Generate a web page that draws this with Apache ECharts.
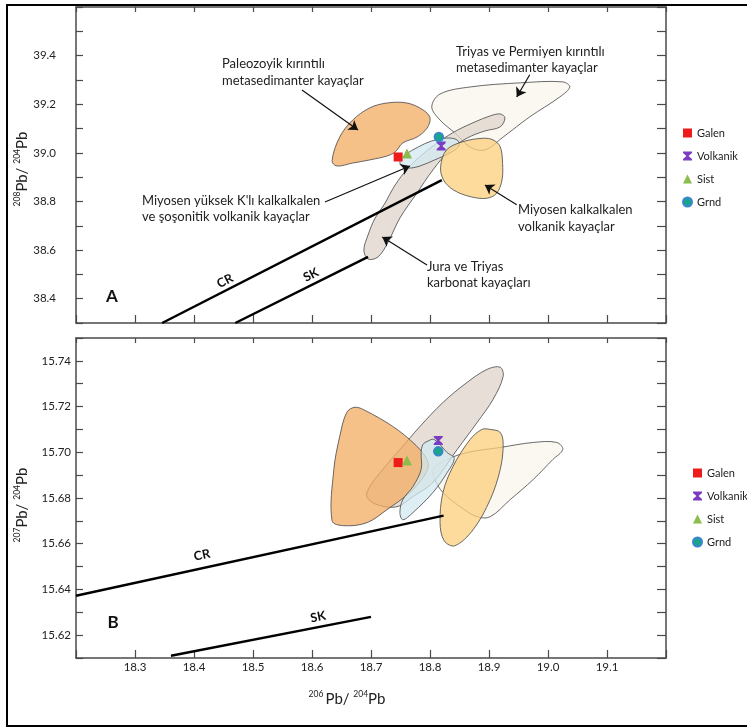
<!DOCTYPE html>
<html>
<head>
<meta charset="utf-8">
<script src="https://cdn.jsdelivr.net/npm/echarts@6/dist/echarts.min.js"></script>
<style>html,body{margin:0;padding:0;background:#fff;}#c{width:747px;height:727px;}</style>
</head>
<body>
<div id="c"></div>
<script>
// ---------- tick labels ----------
const xTickLabels = ['18.3','18.4','18.5','18.6','18.7','18.8','18.9','19.0','19.1'];
const yTickLabelsA = ['38.4','38.6','38.8','39.0','39.2','39.4'];
const yTickLabelsB = ['15.62','15.64','15.66','15.68','15.70','15.72','15.74'];
const legendNames = ['Galen','Volkanik','Sist','Grnd'];

// ---------- panel A (208Pb/204Pb vs 206Pb/204Pb) ----------
const galenA = [18.746, 38.983];
const volkanikA = [18.819, 39.028];
const sistA = [18.761, 38.997];
const grndA = [18.815, 39.065];
const crA = [[18.346, 38.3], [18.820, 38.888]];
const skA = [[18.470, 38.3], [18.695, 38.572]];
const paleoA = [[18.634,38.968],[18.647,39.065],[18.669,39.135],[18.698,39.185],[18.727,39.205],[18.761,39.205],[18.788,39.177],[18.800,39.144],[18.795,39.102],[18.778,39.065],[18.754,39.041],[18.741,39.004],[18.727,38.987],[18.698,38.971],[18.669,38.958],[18.642,38.946]];
const triasPermA = [[18.803,39.189],[18.817,39.242],[18.868,39.271],[18.953,39.288],[19.025,39.292],[19.037,39.271],[19.020,39.230],[18.969,39.148],[18.924,39.065],[18.893,39.012],[18.868,39.024],[18.842,39.082],[18.817,39.135]];
const juraA = [[18.927,39.144],[18.919,39.107],[18.893,39.090],[18.863,39.061],[18.834,39.012],[18.805,38.930],[18.778,38.835],[18.749,38.732],[18.729,38.633],[18.712,38.572],[18.695,38.563],[18.688,38.600],[18.695,38.662],[18.707,38.732],[18.722,38.786],[18.741,38.868],[18.763,38.938],[18.786,38.991],[18.817,39.049],[18.847,39.094],[18.876,39.127],[18.902,39.152],[18.919,39.160]];
const yuksekKA = [[18.749,38.958],[18.758,38.991],[18.780,39.024],[18.803,39.049],[18.829,39.061],[18.846,39.053],[18.849,39.028],[18.834,39.000],[18.808,38.971],[18.783,38.946],[18.763,38.938]];
const miyoKalkA = [[18.828,39.012],[18.856,39.046],[18.890,39.060],[18.907,39.053],[18.919,39.025],[18.923,38.957],[18.922,38.888],[18.913,38.834],[18.896,38.813],[18.868,38.820],[18.840,38.847],[18.823,38.888],[18.818,38.943]];
const arrowsA = [
  [[18.583,39.259],[18.678,39.094]],
  [[18.969,39.321],[18.947,39.230]],
  [[18.622,38.798],[18.766,38.946]],
  [[18.947,38.786],[18.893,38.868]],
  [[18.795,38.539],[18.719,38.654]]
];

// ---------- panel B (207Pb/204Pb vs 206Pb/204Pb) ----------
const galenB = [18.746, 15.6955];
const volkanikB = [18.814, 15.7052];
const sistB = [18.761, 15.6964];
const grndB = [18.814, 15.7004];
const crB = [[18.2, 15.6372], [18.823, 15.6723]];
const skB = [[18.361, 15.611], [18.700, 15.628]];
const paleoB = [[18.673,15.7197],[18.690,15.7183],[18.737,15.7113],[18.771,15.7043],[18.792,15.6982],[18.797,15.6938],[18.788,15.6889],[18.766,15.6824],[18.727,15.6749],[18.693,15.6692],[18.653,15.6679],[18.634,15.6701],[18.637,15.6925],[18.647,15.7069],[18.659,15.7175]];
const juraB = [[18.919,15.7372],[18.924,15.7332],[18.907,15.7232],[18.880,15.7131],[18.846,15.7012],[18.805,15.6868],[18.771,15.6806],[18.744,15.6762],[18.710,15.6771],[18.693,15.6806],[18.698,15.6850],[18.720,15.6925],[18.749,15.7012],[18.783,15.7113],[18.822,15.7218],[18.863,15.7306],[18.897,15.7363]];
const yuksekKB = [[18.795,15.7047],[18.807,15.7056],[18.829,15.6999],[18.841,15.6973],[18.829,15.6911],[18.805,15.6824],[18.771,15.6736],[18.754,15.6705],[18.749,15.6736],[18.754,15.6793],[18.771,15.6850],[18.785,15.6925],[18.785,15.6999],[18.788,15.7034]];
const miyoKalkB = [[18.902,15.7100],[18.919,15.7087],[18.924,15.7034],[18.919,15.6925],[18.902,15.6793],[18.873,15.6661],[18.842,15.6591],[18.824,15.6613],[18.817,15.6692],[18.822,15.6824],[18.839,15.6938],[18.868,15.7056],[18.888,15.7100]];
const triasPermB = [[18.805,15.6925],[18.829,15.6968],[18.863,15.6999],[18.919,15.7021],[18.975,15.7043],[19.015,15.7043],[19.025,15.7012],[19.008,15.6968],[18.975,15.6881],[18.936,15.6793],[18.902,15.6718],[18.880,15.6718],[18.851,15.6762],[18.822,15.6824],[18.808,15.6881]];

// ---------- styles ----------
const FONT = 'Lato';
const AX = '#4a4a4a';
const FILL = {
  paleo: 'rgba(243,172,98,0.75)',
  miyo: 'rgba(252,207,123,0.75)',
  jura: 'rgba(223,212,202,0.75)',
  trias: 'rgba(250,245,238,0.75)',
  yuksek: 'rgba(210,234,240,0.75)'
};
const hourglass = 'path://M0,0 L10,0 L10,1.6 L6.2,5 L10,8.4 L10,10 L0,10 L0,8.4 L3.8,5 L0,1.6 Z';

function poly(pts, fill, ai) {
  return {
    type: 'custom', xAxisIndex: ai, yAxisIndex: ai, silent: true,
    data: [pts[0]],
    renderItem: function (params, api) {
      return {
        type: 'polygon',
        shape: { points: pts.map(function (p) { return api.coord(p); }), smooth: 0.35 },
        style: { fill: fill, stroke: 'rgba(80,80,80,0.85)', lineWidth: 1 }
      };
    }
  };
}
function refLine(pts, ai) {
  return { type: 'line', xAxisIndex: ai, yAxisIndex: ai, data: pts, showSymbol: false, silent: true,
    lineStyle: { color: '#000', width: 2.5 } };
}
function markers(ai, g, v, s, r) {
  return [
    { type: 'scatter', name: 'Galen', xAxisIndex: ai, yAxisIndex: ai, data: [g], symbol: 'rect', symbolSize: 9, itemStyle: { color: '#ee1b1b', opacity: 1 } },
    { type: 'scatter', name: 'Volkanik', xAxisIndex: ai, yAxisIndex: ai, data: [v], symbol: hourglass, symbolSize: 9, itemStyle: { color: '#7a3cc0', opacity: 1 } },
    { type: 'scatter', name: 'Sist', xAxisIndex: ai, yAxisIndex: ai, data: [s], symbol: 'triangle', symbolSize: 10, itemStyle: { color: '#8cbc4c', opacity: 1 } },
    { type: 'scatter', name: 'Grnd', xAxisIndex: ai, yAxisIndex: ai, data: [r], symbol: 'circle', symbolSize: 9, itemStyle: { color: '#1ba38c', borderColor: '#3a84d4', borderWidth: 1.5, opacity: 1 } }
  ];
}
function xAx(grid, pos, labels, len) {
  return {
    type: 'value', gridIndex: grid, position: pos, min: 18.2, max: 19.2, interval: 0.1,
    axisLine: { show: true, onZero: false, lineStyle: { color: AX, width: 1.5 } },
    axisTick: { show: true, inside: true, length: len, lineStyle: { color: AX, width: 1.2 } },
    axisLabel: { show: labels, margin: 3, color: '#222', fontFamily: FONT, fontSize: 11.5,
      formatter: function (v) { const s = v.toFixed(1); return xTickLabels.indexOf(s) >= 0 ? s : ''; } },
    splitLine: { show: false }
  };
}
function yAx(grid, pos, min, max, step, labels, list, dec, margin, len) {
  return {
    type: 'value', gridIndex: grid, position: pos, min: min, max: max, interval: step,
    axisLine: { show: true, onZero: false, lineStyle: { color: AX, width: 1.5 } },
    axisTick: { show: true, inside: true, length: len, lineStyle: { color: AX, width: 1.2 } },
    axisLabel: { show: labels, margin: margin, color: '#222', fontFamily: FONT, fontSize: 11.5,
      formatter: function (v) { const s = v.toFixed(dec); return list.indexOf(s) >= 0 ? s : ''; } },
    splitLine: { show: false }
  };
}
function note(x, y, txt) {
  return { type: 'text', x: x, y: y, silent: true,
    style: { text: txt, font: '13px ' + FONT, fill: '#222', textAlign: 'left', textVerticalAlign: 'middle', lineHeight: 16.5 } };
}
function bold(x, y, txt, size, rot) {
  return { type: 'text', x: x, y: y, rotation: rot || 0, silent: true,
    style: { text: txt, font: 'bold ' + size + 'px ' + FONT, fill: '#111', textAlign: 'center', textVerticalAlign: 'middle' } };
}
function axTitle(x, y, a, b, rot) {
  return { type: 'text', x: x, y: y, rotation: rot, silent: true,
    style: { text: '{s|' + a + '}{m|Pb/ }{s|' + b + '}{m|Pb}', textAlign: 'center', textVerticalAlign: 'middle',
      rich: { s: { fontSize: 8.5, fontFamily: FONT, fill: '#222', verticalAlign: 'top', lineHeight: 10 },
              m: { fontSize: 15, fontFamily: FONT, fill: '#222', lineHeight: 18 } } } };
}

const chart = echarts.init(document.getElementById('c'), null, { renderer: 'canvas' });
const deg = Math.PI / 180;
chart.setOption({
  animation: false,
  backgroundColor: '#fff',
  grid: [
    { left: 76, top: 7, width: 590, height: 316 },
    { left: 76, top: 338, width: 590, height: 320 }
  ],
  xAxis: [xAx(0, 'bottom', false, 8), xAx(0, 'top', false, 5), xAx(1, 'bottom', true, 8), xAx(1, 'top', false, 5)],
  yAxis: [
    yAx(0, 'left', 38.3, 39.6, 0.1, true, yTickLabelsA, 1, 20, 7),
    yAx(0, 'right', 38.3, 39.6, 0.1, false, yTickLabelsA, 1, 5, 9),
    yAx(1, 'left', 15.61, 15.75, 0.01, true, yTickLabelsB, 2, 5, 7),
    yAx(1, 'right', 15.61, 15.75, 0.01, false, yTickLabelsB, 2, 5, 9)
  ],
  legend: [
    { data: legendNames, orient: 'vertical', left: 682, top: 127, padding: 0, itemWidth: 9, itemHeight: 9, itemGap: 11,
      textStyle: { fontFamily: FONT, fontSize: 11, color: '#222', lineHeight: 12 }, selectedMode: false },
    { data: legendNames, orient: 'vertical', left: 692, top: 467, padding: 0, itemWidth: 9, itemHeight: 9, itemGap: 11,
      textStyle: { fontFamily: FONT, fontSize: 11, color: '#222', lineHeight: 12 }, selectedMode: false }
  ],
  series: [
    refLine(crA, 0), refLine(skA, 0),
    poly(triasPermA, FILL.trias, 0), poly(juraA, FILL.jura, 0), poly(paleoA, FILL.paleo, 0),
    poly(yuksekKA, FILL.yuksek, 0), poly(miyoKalkA, FILL.miyo, 0),
    { type: 'lines', coordinateSystem: 'cartesian2d', xAxisIndex: 0, yAxisIndex: 0, silent: true,
      symbol: ['none', 'arrow'], symbolSize: 9, lineStyle: { color: '#111', width: 1.2, opacity: 1 },
      data: arrowsA.map(function (a) { return { coords: a }; }) },
    ...markers(0, galenA, volkanikA, sistA, grndA),
    refLine(crB, 2), refLine(skB, 2),
    poly(triasPermB, FILL.trias, 2), poly(juraB, FILL.jura, 2), poly(paleoB, FILL.paleo, 2),
    poly(yuksekKB, FILL.yuksek, 2), poly(miyoKalkB, FILL.miyo, 2),
    ...markers(2, galenB, volkanikB, sistB, grndB)
  ],
  graphic: [
    { type: 'rect', silent: true, shape: { x: 7, y: 5, width: 745, height: 721 }, style: { fill: 'none', stroke: '#000', lineWidth: 2 } },
    note(222, 72.5, 'Paleozoyik kırıntılı\nmetasedimanter kayaçlar'),
    note(456, 60, 'Triyas ve Permiyen kırıntılı\nmetasedimanter kayaçlar'),
    note(142, 209, "Miyosen yüksek K'lı kalkalkalen\nve şoşonitik volkanik kayaçlar"),
    note(518, 218.5, 'Miyosen kalkalkalen\nvolkanik kayaçlar'),
    note(427, 275, 'Jura ve Triyas\nkarbonat kayaçları'),
    bold(112, 297, 'A', 17, 0),
    bold(113, 623, 'B', 17, 0),
    bold(225, 281, 'CR', 12.5, 27 * deg),
    bold(311, 275, 'SK', 12.5, 27 * deg),
    bold(202, 555, 'CR', 12.5, 12 * deg),
    bold(318, 617, 'SK', 12.5, 11 * deg),
    axTitle(22, 169, '208', '204', Math.PI / 2),
    axTitle(22, 505, '207', '204', Math.PI / 2),
    axTitle(347, 699, '206 ', '204', 0)
  ]
});
</script>
</body>
</html>
